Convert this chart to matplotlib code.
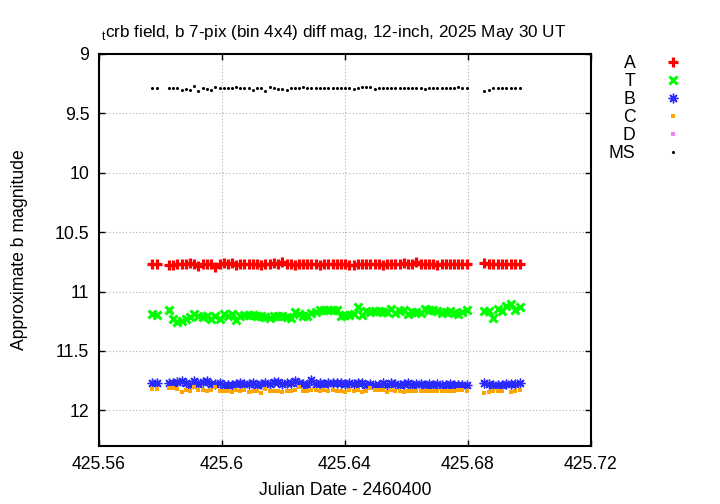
import numpy as np
import matplotlib.pyplot as plt

plt.rcParams['font.family'] = ['Liberation Sans', 'DejaVu Sans']
plt.rcParams['mathtext.fontset'] = 'custom'
plt.rcParams['mathtext.rm'] = 'Liberation Sans'

# Julian Date - 2460400
jd = [425.5773, 425.5788,
      425.5828, 425.5842, 425.5855, 425.5869, 425.5883, 425.5896, 425.5910, 425.5923,
      425.5937, 425.5951, 425.5964, 425.5978, 425.5992, 425.6005, 425.6019, 425.6032,
      425.6046, 425.6060, 425.6073, 425.6087, 425.6101, 425.6114, 425.6128, 425.6141,
      425.6155, 425.6169, 425.6182, 425.6196, 425.6210, 425.6223, 425.6237, 425.6251,
      425.6264, 425.6278, 425.6291, 425.6305, 425.6319, 425.6332, 425.6346, 425.6360,
      425.6373, 425.6387, 425.6400, 425.6414, 425.6428, 425.6441, 425.6455, 425.6469,
      425.6482, 425.6496, 425.6510, 425.6523, 425.6537, 425.6550, 425.6564, 425.6578,
      425.6591, 425.6605, 425.6619, 425.6632, 425.6646, 425.6659, 425.6673, 425.6687,
      425.6700, 425.6714, 425.6728, 425.6741, 425.6755, 425.6768, 425.6782, 425.6796,
      425.6852, 425.6867, 425.6881, 425.6896, 425.6911, 425.6925, 425.6940, 425.6954,
      425.6969]

mag_A = [10.77, 10.77,
         10.775, 10.775, 10.77, 10.77, 10.765, 10.76, 10.765, 10.785, 10.77, 10.765,
         10.77, 10.79, 10.765, 10.76, 10.765, 10.76, 10.775, 10.765, 10.77, 10.765,
         10.77, 10.765, 10.775, 10.765, 10.77, 10.76, 10.765, 10.755, 10.77, 10.765,
         10.775, 10.77, 10.765, 10.77, 10.765, 10.765, 10.78, 10.77, 10.765, 10.765,
         10.77, 10.765, 10.77, 10.775, 10.78, 10.765, 10.77, 10.765, 10.77, 10.77,
         10.765, 10.775, 10.77, 10.765, 10.77, 10.765, 10.76, 10.765, 10.765, 10.755,
         10.765, 10.77, 10.765, 10.77, 10.775, 10.765, 10.77, 10.765, 10.765, 10.765,
         10.765, 10.765,
         10.76, 10.765, 10.765, 10.765, 10.765, 10.765, 10.765, 10.765, 10.765]

mag_T = [11.185, 11.20,
         11.157, 11.235, 11.258, 11.249, 11.235, 11.213, 11.188, 11.207, 11.213, 11.207,
         11.235, 11.202, 11.230, 11.185, 11.207, 11.185, 11.241, 11.207, 11.193, 11.196,
         11.193, 11.207, 11.202, 11.213, 11.221, 11.207, 11.202, 11.202, 11.213, 11.221,
         11.174, 11.188, 11.202, 11.202, 11.179, 11.174, 11.157, 11.151, 11.157, 11.157,
         11.157, 11.207, 11.193, 11.193, 11.188, 11.129, 11.193, 11.165, 11.171, 11.165,
         11.165, 11.174, 11.174, 11.145, 11.179, 11.162, 11.151, 11.188, 11.174, 11.174,
         11.179, 11.145, 11.151, 11.157, 11.165, 11.179, 11.171, 11.162, 11.179, 11.188,
         11.174, 11.157,
         11.165, 11.165, 11.221, 11.145, 11.160, 11.118, 11.101, 11.157, 11.129]

mag_B = [11.77, 11.77,
         11.770, 11.770, 11.762, 11.756, 11.770, 11.784, 11.750, 11.778, 11.764, 11.756,
         11.778, 11.778, 11.770, 11.784, 11.790, 11.784, 11.778, 11.773, 11.778, 11.776,
         11.770, 11.784, 11.778, 11.770, 11.778, 11.764, 11.762, 11.778, 11.773, 11.770,
         11.756, 11.770, 11.778, 11.784, 11.742, 11.778, 11.773, 11.778, 11.773, 11.770,
         11.770, 11.770, 11.778, 11.773, 11.778, 11.773, 11.773, 11.784, 11.778, 11.784,
         11.790, 11.773, 11.784, 11.773, 11.778, 11.784, 11.778, 11.773, 11.784, 11.778,
         11.778, 11.784, 11.778, 11.784, 11.778, 11.784, 11.784, 11.778, 11.784, 11.784,
         11.784, 11.790,
         11.770, 11.778, 11.790, 11.784, 11.784, 11.778, 11.778, 11.778, 11.770]

mag_C = [11.818, 11.818,
         11.812, 11.812, 11.818, 11.846, 11.829, 11.840, 11.801, 11.829, 11.829, 11.834,
         11.829, 11.806, 11.840, 11.840, 11.840, 11.846, 11.826, 11.834, 11.829, 11.846,
         11.834, 11.834, 11.857, 11.818, 11.840, 11.840, 11.834, 11.846, 11.834, 11.840,
         11.829, 11.806, 11.834, 11.834, 11.829, 11.829, 11.834, 11.829, 11.834, 11.829,
         11.834, 11.840, 11.846, 11.829, 11.834, 11.829, 11.846, 11.840, 11.812, 11.829,
         11.829, 11.826, 11.846, 11.829, 11.834, 11.840, 11.846, 11.834, 11.834, 11.834,
         11.834, 11.834, 11.834, 11.840, 11.834, 11.834, 11.834, 11.834, 11.834, 11.829,
         11.829, 11.834,
         11.851, 11.846, 11.840, 11.840, 11.840, np.nan, 11.846, 11.834, 11.826]

mag_D = [np.nan] * len(jd)

mag_MS = [9.29, 9.29,
          9.29, 9.29, 9.29, 9.30, 9.295, 9.30, 9.27, 9.31, 9.29, 9.295,
          9.30, 9.275, 9.29, 9.29, 9.285, 9.285, 9.28, 9.285, 9.29, 9.29,
          9.30, 9.29, 9.285, 9.315, 9.28, 9.29, 9.295, 9.295, 9.30, 9.29,
          9.285, 9.29, 9.275, 9.29, 9.29, 9.29, 9.285, 9.29, 9.29, 9.29,
          9.29, 9.29, 9.29, 9.29, 9.295, 9.29, 9.28, 9.28, 9.28, 9.295,
          9.29, 9.29, 9.285, 9.29, 9.29, 9.29, 9.285, 9.29, 9.29, 9.29,
          9.29, 9.295, 9.29, 9.29, 9.29, 9.29, 9.285, 9.29, 9.29, 9.28,
          9.29, 9.29,
          9.31, 9.30, 9.29, 9.285, 9.29, 9.29, 9.29, 9.29, 9.285]

xticks = [425.56, 425.6, 425.64, 425.68, 425.72]
xtick_labels = ['425.56', '425.6', '425.64', '425.68', '425.72']
yticks = [9, 9.5, 10, 10.5, 11, 11.5, 12]
ytick_labels = ['9', '9.5', '10', '10.5', '11', '11.5', '12']

fig = plt.figure(figsize=(7.2, 5.04), dpi=100)
ax = fig.add_axes([0.1375, 0.115, 0.6833, 0.778])

ax.plot(jd, mag_A, ls='none', marker='+', ms=6.5, mew=2.3, color='#ff0000', label='A')
ax.plot(jd, mag_T, ls='none', marker='x', ms=5.5, mew=2.2, color='#00ff00', label='T')
ax.plot(jd, mag_B, ls='none', marker=(8, 2, 0), ms=7, mew=1.0, color='#2a2aff', label='B')
ax.plot(jd, mag_C, ls='none', marker='s', ms=3, mew=0, color='#ffa500', label='C')
ax.plot(jd, mag_D, ls='none', marker='s', ms=3.5, mew=0, color='#ee82ee', label='D')
ax.plot(jd, mag_MS, ls='none', marker='o', ms=2.2, mew=0, color='black', label='MS')

ax.set_xlim(425.56, 425.72)
ax.set_ylim(12.3, 9)
ax.set_xticks(xticks)
ax.set_xticklabels(xtick_labels)
ax.set_yticks(yticks)
ax.set_yticklabels(ytick_labels)
ax.tick_params(direction='in', length=4, width=1, labelsize=12.7, pad=7,
               top=True, right=True)
ax.grid(True, color='#b0b0b0', linestyle=(0, (1, 2)), linewidth=0.8)
for sp in ax.spines.values():
    sp.set_linewidth(1.5)

ax.set_xlabel('Julian Date - 2460400', fontsize=12.7, labelpad=7)
ax.set_ylabel('Approximate b magnitude', fontsize=12.7, labelpad=19)
ax.set_title(r'${}_{\mathrm{t}}$crb field, b 7-pix (bin 4x4) diff mag, 12-inch, 2025 May 30 UT',
             fontsize=12.3, pad=12, x=0.477)

ax.legend(loc='upper right', bbox_to_anchor=(0.9465, 0.891),
          bbox_transform=fig.transFigure, frameon=False, markerfirst=False,
          numpoints=1, handlelength=1.0, handletextpad=1.6, borderpad=0,
          borderaxespad=0, labelspacing=0.06, fontsize=12.7)

fig.savefig('out.png', dpi=100)
